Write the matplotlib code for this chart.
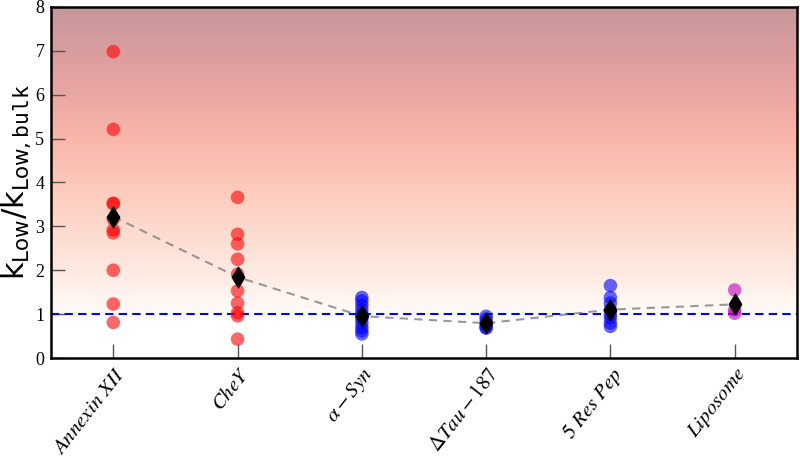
import numpy as np
import matplotlib
matplotlib.use("Agg")
import matplotlib.pyplot as plt
from matplotlib.colors import LinearSegmentedColormap

categories = [r"$Annexin\ XII$", r"$CheY$", r"$\alpha-Syn$", r"$\Delta Tau-187$", r"$5\ Res\ Pep$", r"$Liposome$"]
annexin = [6.98, 5.21, 3.52, 3.52, 3.17, 2.92, 2.85, 2.00, 1.23, 0.81]
chey = [3.66, 2.82, 2.60, 2.25, 1.91, 1.53, 1.25, 1.03, 0.96, 0.43]
asyn = [1.38, 1.30, 1.20, 1.10, 1.00, 0.95, 0.90, 0.80, 0.70, 0.62, 0.55]
dtau = [0.95, 0.88, 0.80, 0.75, 0.70, 0.68]
respep = [1.65, 1.38, 1.25, 1.10, 1.00, 0.92, 0.80, 0.72]
liposome = [1.55, 1.10, 1.02]
series = [annexin, chey, asyn, dtau, respep, liposome]
colors = ["red", "red", "blue", "blue", "blue", "m"]
y_ticks = [0, 1, 2, 3, 4, 5, 6, 7, 8]
bulk_ref = 1.0

fig = plt.figure(figsize=(8, 4.59), dpi=100)
ax = fig.add_axes([0.064, 0.22, 0.932, 0.765])

# gradient background
cmap = LinearSegmentedColormap.from_list("bg", [
    (0.0, "#fffbf9"),
    (0.14, "#fee9e1"),
    (0.36, "#fdd0c2"),
    (0.57, "#f9b6aa"),
    (0.79, "#e2a0a1"),
    (1.0, "#c4979a"),
])
grad = np.linspace(0, 1, 256).reshape(-1, 1)
ax.imshow(grad, extent=[-0.5, 5.5, 1, 8], origin="lower", aspect="auto",
          cmap=cmap, zorder=0, interpolation="bicubic")

x = np.arange(len(categories))
means = []
for i, vals in enumerate(series):
    ax.scatter([x[i]] * len(vals), vals, s=95, color=colors[i], alpha=0.6,
               edgecolors="none", zorder=3)
    means.append(np.mean(vals))

ax.plot(x, means, "--", color="gray", alpha=0.8, lw=1.5, zorder=4, dashes=(4, 3))
ax.scatter(x, means, marker="d", s=110, color="black", zorder=5)
ax.axhline(bulk_ref, color="blue", ls="--", lw=1.5, zorder=2, dashes=(4, 2.5))

ax.set_xlim(-0.5, 5.5)
ax.set_ylim(0, 8)
ax.set_yticks(y_ticks)
ax.set_xticks(x)
ax.set_xticklabels(categories, rotation=52, ha="right", rotation_mode="anchor",
                   fontsize=15, math_fontfamily="stix")
for lab in ax.get_yticklabels():
    lab.set_fontfamily("Liberation Serif")
    lab.set_fontsize(13)
ax.tick_params(axis="both", direction="in", length=10, width=1, color="#555555")
ax.tick_params(axis="x", pad=4)
ax.tick_params(axis="y", pad=5)
for sp in ax.spines.values():
    sp.set_linewidth(1.8)

ax.set_ylabel(r"$\mathsf{k_{Low}/k_{Low,\mathtt{bulk}}}$", fontsize=22,
              math_fontfamily="dejavusans")
ax.yaxis.set_label_coords(-0.024, 0.5)

fig.savefig("out.png", dpi=100)
